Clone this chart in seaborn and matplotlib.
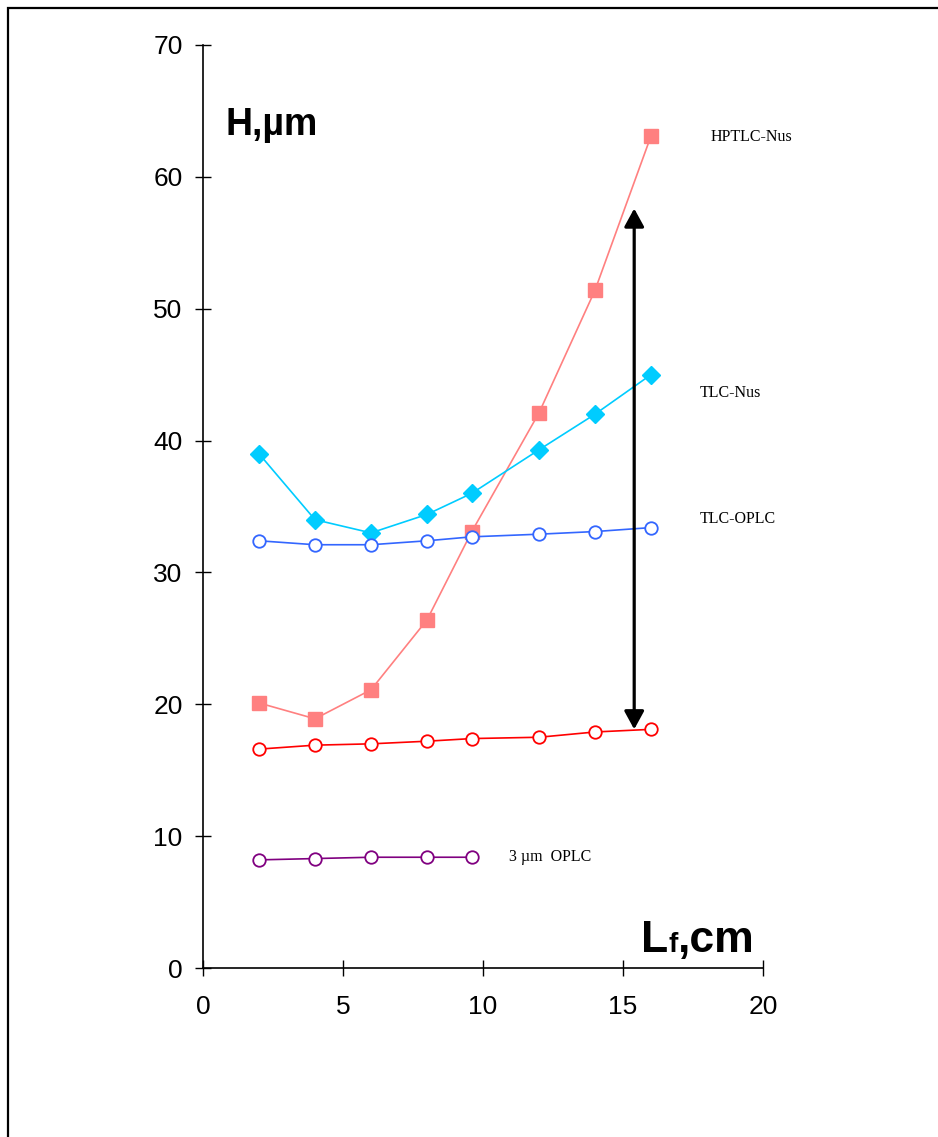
import matplotlib
matplotlib.use("Agg")
import matplotlib.pyplot as plt
from matplotlib.patches import Rectangle
import pandas as pd
import seaborn as sns

# Flow distance Lf (cm) at which plate height was measured
lf_cm = [2, 4, 6, 8, 9.6, 12, 14, 16]
lf_cm_3um = [2, 4, 6, 8, 9.6]

# Plate height H (um) for each technique
h_hptlc_nus = [20.1, 18.9, 21.1, 26.4, 33.1, 42.1, 51.4, 63.1]
h_tlc_nus = [39.0, 34.0, 33.0, 34.4, 36.0, 39.3, 42.0, 45.0]
h_tlc_oplc = [32.4, 32.1, 32.1, 32.4, 32.7, 32.9, 33.1, 33.4]
h_hptlc_oplc = [16.6, 16.9, 17.0, 17.2, 17.4, 17.5, 17.9, 18.1]
h_3um_oplc = [8.2, 8.3, 8.4, 8.4, 8.4]

x_ticks = [0, 5, 10, 15, 20]
y_ticks = [0, 10, 20, 30, 40, 50, 60, 70]

sns.set_theme(style="white")
plt.rcParams["font.family"] = ["Liberation Sans", "DejaVu Sans"]
plt.rcParams["text.color"] = "black"

fig = plt.figure(figsize=(9.38, 11.37), dpi=100)
ax = fig.add_axes([203 / 938, 1 - 968 / 1137, 560 / 938, 923 / 1137])

series = [
    (lf_cm, h_hptlc_nus, "#FF8080", "s", 9.5, True),
    (lf_cm, h_tlc_nus, "#00CCFF", "D", 9.0, True),
    (lf_cm, h_tlc_oplc, "#3366FF", "o", 9.0, False),
    (lf_cm, h_hptlc_oplc, "#FF0000", "o", 9.0, False),
    (lf_cm_3um, h_3um_oplc, "#800080", "o", 9.0, False),
]
for xs, ys, color, marker, ms, filled in series:
    df = pd.DataFrame({"Lf": xs, "H": ys})
    sns.lineplot(
        data=df, x="Lf", y="H", ax=ax, sort=False, color=color, lw=1.2,
        marker=marker, markersize=ms,
        markerfacecolor=color if filled else "white",
        markeredgecolor=color, markeredgewidth=1.0 if filled else 1.3,
    )

# Double-headed arrow spanning the range of plate heights at the end of the run
ax.annotate(
    "", xy=(15.4, 57.6), xytext=(15.4, 18.1),
    arrowprops=dict(arrowstyle="<|-|>,head_length=0.55,head_width=0.3",
                    mutation_scale=20, lw=2.3, color="black",
                    shrinkA=0, shrinkB=0),
)

serif = ["Liberation Serif", "DejaVu Serif"]
lbl = dict(family=serif, fontsize=11.5, va="baseline", color="black", clip_on=False)
ax.text(18.14, 62.7, "HPTLC-Nus", **lbl)
ax.text(17.75, 43.3, "TLC-Nus", **lbl)
ax.text(17.75, 33.75, "TLC-OPLC", **lbl)
ax.text(10.93, 8.1, "3 \u00b5m  OPLC", **lbl)

# Axis titles placed inside the plotting area
ax.text(0.82, 63.2, "H,\u00b5m", fontsize=27, fontweight="bold", va="baseline",
        color="black")
t_l = ax.text(15.66, 1.2, "L", fontsize=32, fontweight="bold", va="baseline",
              color="black")
t_f = ax.annotate("f", xy=(1, 0), xycoords=t_l, xytext=(0, 3.5),
                  textcoords="offset pixels", fontsize=20, fontweight="bold",
                  va="bottom", ha="left", color="black")
ax.annotate(",cm", xy=(1, 0), xycoords=t_f, xytext=(0, -3.5),
            textcoords="offset pixels", fontsize=32, fontweight="bold",
            va="bottom", ha="left", color="black")

ax.set_xlim(0, 20)
ax.set_ylim(0, 70)
ax.set_xticks(x_ticks)
ax.set_yticks(y_ticks)
ax.set_xlabel("")
ax.set_ylabel("")
ax.tick_params(axis="both", direction="inout", length=11.5, width=1.0,
               color="black", labelsize=19, labelcolor="black")
ax.tick_params(axis="x", pad=13.5, bottom=True)
ax.tick_params(axis="y", pad=9, left=True)
for side in ("top", "right"):
    ax.spines[side].set_visible(False)
for side in ("left", "bottom"):
    ax.spines[side].set_color("black")
    ax.spines[side].set_linewidth(1.2)
ax.patch.set_alpha(0)

# Outer frame around the figure
fig.patches.append(Rectangle((8 / 938, -0.1), 1.2, 1.1 - 8 / 1137,
                             transform=fig.transFigure, fill=False,
                             lw=1.6, edgecolor="black", clip_on=False))

fig.savefig("out.png", dpi=100, facecolor="white")
